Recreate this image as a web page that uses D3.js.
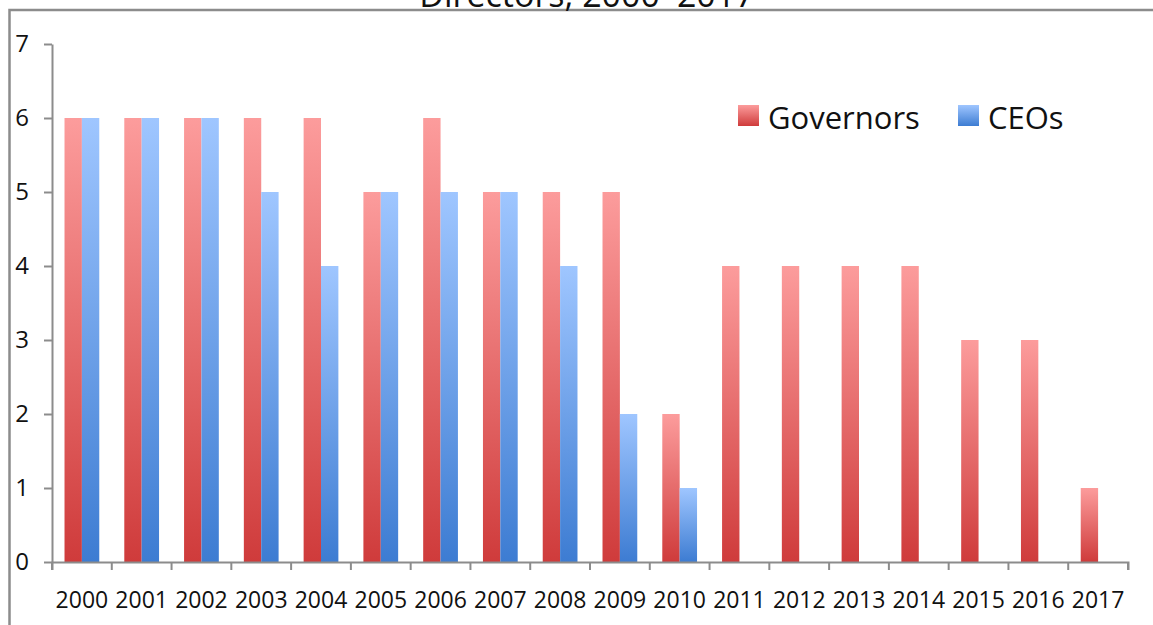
<!DOCTYPE html>
<html>
<head>
<meta charset="utf-8">
<script src="https://cdn.jsdelivr.net/npm/d3@7"></script>
<style>
  body { margin: 0; background: #fff; overflow: hidden; }
  svg { display: block; font-family: "Open Sans", sans-serif; }
</style>
</head>
<body>
<script>
// data
let years = ["2000","2001","2002","2003","2004","2005","2006","2007","2008",
             "2009","2010","2011","2012","2013","2014","2015","2016","2017"]
let governors = [6, 6, 6, 6, 6, 5, 6, 5, 5, 5, 2, 4, 4, 4, 4, 3, 3, 1]
let ceos      = [6, 6, 6, 5, 4, 5, 5, 5, 4, 2, 1, 0, 0, 0, 0, 0, 0, 0]
let seriesNames = ["Governors", "CEOs"]
let yTicks = [0, 1, 2, 3, 4, 5, 6, 7]

let width = 1153
let height = 625
let padding = {left: 52, right: 25, top: 44, bottom: 63}

let svg = d3.select("body")
    .append("svg")
    .attr("width", width)
    .attr("height", height)

// gradients, light at top, darker at the bottom of each bar
let defs = svg.append("defs")
let grads = [
    {id: "gradRed", top: "#fc9c9c", bottom: "#cf3b3b"},
    {id: "gradBlue", top: "#9fc6ff", bottom: "#3d7cd2"}
]
grads.forEach(function(g) {
    let lg = defs.append("linearGradient")
        .attr("id", g.id)
        .attr("x1", 0).attr("y1", 0)
        .attr("x2", 0).attr("y2", 1)
    lg.append("stop").attr("offset", "0%").attr("stop-color", g.top)
    lg.append("stop").attr("offset", "100%").attr("stop-color", g.bottom)
})

// outer frame (right and bottom edges are outside the picture)
svg.append("rect")
    .attr("x", 9.5).attr("y", 10)
    .attr("width", 1200).attr("height", 700)
    .attr("fill", "none")
    .attr("stroke", "#8c8c8c")
    .attr("stroke-width", 2.5)

// title, only its lower line peeks in above the frame
svg.append("text")
    .attr("x", 587).attr("y", 7)
    .attr("text-anchor", "middle")
    .attr("font-size", 34)
    .attr("fill", "#111")
    .text("Directors, 2000–2017")

let xScale = d3.scaleBand()
    .domain(years)
    .range([padding.left, width - padding.right])

let x1 = d3.scaleBand()
    .domain(seriesNames)
    .range([0, xScale.bandwidth()])
    .paddingInner(0)
    .paddingOuter(0.72)

let yScale = d3.scaleLinear()
    .domain([0, 7])
    .range([height - padding.bottom, padding.top])

let rows = years.map(function(y, i) {
    return {year: y, values: [
        {name: "Governors", v: governors[i], fill: "url(#gradRed)"},
        {name: "CEOs", v: ceos[i], fill: "url(#gradBlue)"}
    ]}
})

let groups = svg.selectAll(".group")
    .data(rows)
    .enter()
    .append("g")
    .attr("class", "group")
    .attr("transform", function(d) { return "translate(" + xScale(d.year) + ",0)" })

groups.selectAll("rect")
    .data(function(d) { return d.values.filter(function(e) { return e.v > 0 }) })
    .enter()
    .append("rect")
    .attr("x", function(d) { return x1(d.name) })
    .attr("y", function(d) { return yScale(d.v) })
    .attr("width", x1.bandwidth())
    .attr("height", function(d) { return yScale(0) - yScale(d.v) })
    .attr("fill", function(d) { return d.fill })

// axes
let xAxis = d3.axisBottom(xScale).tickSize(8).tickSizeOuter(8)
let yAxis = d3.axisLeft(yScale).tickValues(yTicks).tickFormat(d3.format("d")).tickSize(8).tickSizeOuter(0)

let gx = svg.append("g")
    .attr("transform", "translate(0," + yScale(0) + ")")
    .call(xAxis)
// ticks sit on the band edges, not the centres
gx.selectAll(".tick line").attr("x1", -xScale.bandwidth() / 2).attr("x2", -xScale.bandwidth() / 2)
gx.append("line")
    .attr("x1", width - padding.right).attr("x2", width - padding.right)
    .attr("y1", 0).attr("y2", 8)
    .attr("stroke", "#8c8c8c").attr("stroke-width", 2)
gx.selectAll(".tick text").attr("font-size", 23).attr("dy", "1.5em")

let gy = svg.append("g")
    .attr("transform", "translate(" + padding.left + ",0)")
    .call(yAxis)
gy.selectAll(".tick text").attr("font-size", 24).attr("dx", "-0.5em")

svg.selectAll(".domain, .tick line")
    .attr("stroke", "#8c8c8c")
    .attr("stroke-width", 2)
svg.selectAll(".tick text").attr("fill", "#111").attr("font-family", "Open Sans, sans-serif")

// legend
let legend = svg.append("g")
let legendItems = [
    {name: "Governors", fill: "url(#gradRed)", x: 738},
    {name: "CEOs", fill: "url(#gradBlue)", x: 958}
]
legend.selectAll("rect")
    .data(legendItems)
    .enter()
    .append("rect")
    .attr("x", function(d) { return d.x })
    .attr("y", 105)
    .attr("width", 21)
    .attr("height", 21)
    .attr("fill", function(d) { return d.fill })
legend.selectAll("text")
    .data(legendItems)
    .enter()
    .append("text")
    .attr("x", function(d) { return d.x + 30 })
    .attr("y", 129)
    .attr("font-size", 31)
    .attr("fill", "#111")
    .text(function(d) { return d.name })
</script>
</body>
</html>
